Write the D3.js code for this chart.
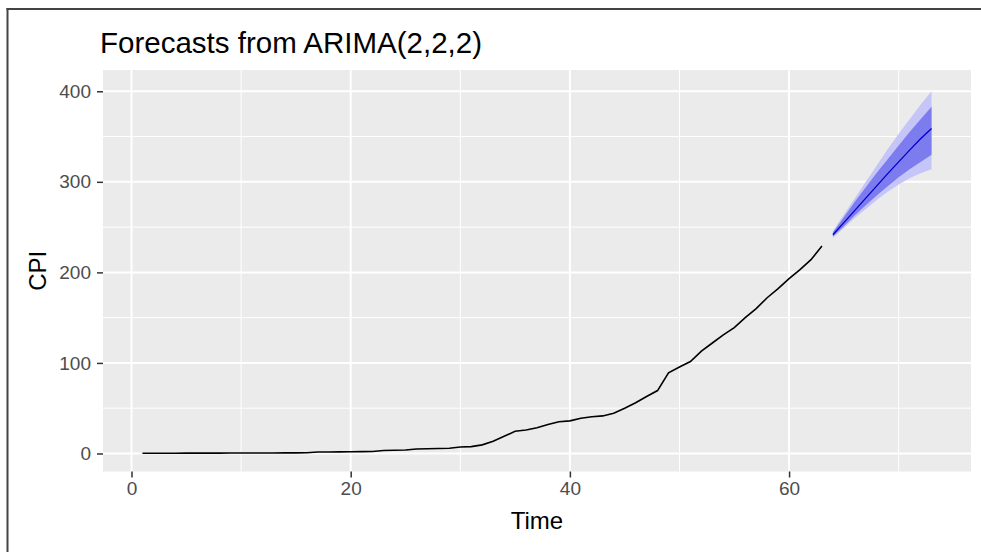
<!DOCTYPE html>
<html>
<head>
<meta charset="utf-8">
<script src="https://cdnjs.cloudflare.com/ajax/libs/d3/7.8.5/d3.min.js"></script>
<style>
  html, body { margin: 0; padding: 0; background: #fff; overflow: hidden; }
  svg { display: block; }
  text { font-family: "Liberation Sans", Arial, sans-serif; }
</style>
</head>
<body>
<script>
// historical CPI, time 1..63
const cpi = [0.3,0.3,0.3,0.3,0.4,0.4,0.4,0.4,0.5,0.5,0.5,0.6,0.6,0.7,0.7,0.8,
  1.6,1.7,1.8,1.9,2.0,2.2, 3.3,3.5,3.8, 5.0,5.3,5.5,5.8, 7.1,7.6,
  9.5,13.5,19,24.5,26,28.5,32,35,36,39,40.5,41.5,44.5,50,56,63,69.5,89,95.5,101.5,
  113,122,131,139,150,160,172,182,193,203,214,229];
// forecast, time 64..73
const fcMean = [241.5,255,268.5,282,295.5,309,322,335,347.5,359];
const fcLo80 = [239.5,251,263,274,285,295,305,314,322,330];
const fcHi80 = [244,261,278,294,310,325,340,355,369,383];
const fcLo95 = [238,249,260,270,280,289,297,304,309.5,314];
const fcHi95 = [245.5,264,282,300,318,336,353,369,385,400];
const xTicks = [0,20,40,60];
const yTicks = [0,100,200,300,400];

const W = 981, H = 552;
const L = 103, R = 971, T = 70, B = 471.5;

const hist = cpi.map((v, i) => ({t: i + 1, v: v}));
const fc = fcMean.map((v, i) => ({t: 64 + i, m: v, lo80: fcLo80[i], hi80: fcHi80[i], lo95: fcLo95[i], hi95: fcHi95[i]}));

const x = d3.scaleLinear().domain([-2.6, 76.6]).range([L, R]);
const y = d3.scaleLinear().domain([-19.9, 423.5]).range([B, T]);

const svg = d3.select("body").append("svg").attr("width", W).attr("height", H);

// outer frame (only left/top visible in the crop)
svg.append("line").attr("x1", 7.5).attr("x2", 7.5).attr("y1", 8).attr("y2", H)
  .attr("stroke", "#444").attr("stroke-width", 2);
svg.append("line").attr("x1", 6.5).attr("x2", W).attr("y1", 9).attr("y2", 9)
  .attr("stroke", "#444").attr("stroke-width", 2);

// panel
svg.append("rect").attr("x", L).attr("y", T).attr("width", R - L).attr("height", B - T).attr("fill", "#ebebeb");

const g = svg.append("g");
// minor grid
[10, 30, 50, 70].forEach(d => g.append("line").attr("x1", x(d)).attr("x2", x(d)).attr("y1", T).attr("y2", B).attr("stroke", "#fff").attr("stroke-width", 1));
[50, 150, 250, 350].forEach(d => g.append("line").attr("y1", y(d)).attr("y2", y(d)).attr("x1", L).attr("x2", R).attr("stroke", "#fff").attr("stroke-width", 1));
// major grid
xTicks.forEach(d => g.append("line").attr("x1", x(d)).attr("x2", x(d)).attr("y1", T).attr("y2", B).attr("stroke", "#fff").attr("stroke-width", 2));
yTicks.forEach(d => g.append("line").attr("y1", y(d)).attr("y2", y(d)).attr("x1", L).attr("x2", R).attr("stroke", "#fff").attr("stroke-width", 2));

// forecast ribbons
svg.append("path").datum(fc)
  .attr("d", d3.area().x(d => x(d.t)).y0(d => y(d.lo95)).y1(d => y(d.hi95)))
  .attr("fill", "#c5c5f7");
svg.append("path").datum(fc)
  .attr("d", d3.area().x(d => x(d.t)).y0(d => y(d.lo80)).y1(d => y(d.hi80)))
  .attr("fill", "#7c7cef");
svg.append("path").datum(fc)
  .attr("d", d3.line().x(d => x(d.t)).y(d => y(d.m)))
  .attr("fill", "none").attr("stroke", "#0000d0").attr("stroke-width", 1.3);

// history
svg.append("path").datum(hist)
  .attr("d", d3.line().x(d => x(d.t)).y(d => y(d.v)))
  .attr("fill", "none").attr("stroke", "#000").attr("stroke-width", 1.6);

// axes
const xAxis = svg.append("g").attr("transform", "translate(0," + B + ")")
  .call(d3.axisBottom(x).tickValues(xTicks).tickSize(6).tickPadding(4));
const yAxis = svg.append("g").attr("transform", "translate(" + L + ",0)")
  .call(d3.axisLeft(y).tickValues(yTicks).tickSize(6).tickPadding(6));
[xAxis, yAxis].forEach(a => {
  a.select(".domain").remove();
  a.selectAll(".tick line").attr("stroke", "#333").attr("stroke-width", 1.5);
  a.selectAll(".tick text").attr("fill", "#4d4d4d").style("font-size", "19px")
    .style("font-family", "'Liberation Sans', Arial, sans-serif");
});

// titles
svg.append("text").attr("x", 100).attr("y", 53).text("Forecasts from ARIMA(2,2,2)")
  .style("font-size", "29.5px").attr("fill", "#000");
svg.append("text").attr("x", (L + R) / 2).attr("y", 529).attr("text-anchor", "middle")
  .text("Time").style("font-size", "24px").attr("fill", "#000");
svg.append("text").attr("transform", "translate(46," + ((T + B) / 2) + ") rotate(-90)")
  .attr("text-anchor", "middle").text("CPI").style("font-size", "24px").attr("fill", "#000");
</script>
</body>
</html>
